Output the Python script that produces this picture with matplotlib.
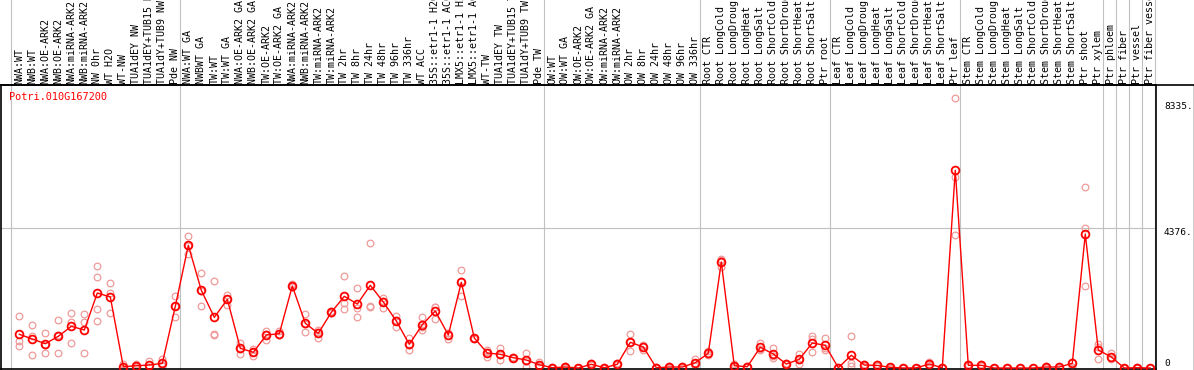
import numpy as np
import matplotlib
matplotlib.use('Agg')
import matplotlib.pyplot as plt
from matplotlib.lines import Line2D
from matplotlib.transforms import blended_transform_factory


###########################################################################################
## sample names, one per column
labels = ["NWA:WT", "NWB:WT", "NWA:OE-ARK2", "NWB:OE-ARK2", "NWA:miRNA-ARK2", "NWB:miRNA-ARK2",
          "NW 0hr", "WT H2O", "WT-NW", "TUA1dEY NW", "TUA1dEY+TUB15 NW", "TUA1dY+TUB9 NW", "Pde NW",
          "NWA:WT GA", "NWBWT GA", "TW:WT", "TW:WT GA", "NWA:OE-ARK2 GA", "NWB:OE-ARK2 GA",
          "TW:OE-ARK2", "TW:OE-ARK2 GA", "NWA:miRNA-ARK2", "NWB:miRNA-ARK2", "TW:miRNA-ARK2",
          "TW:miRNA-ARK2", "TW 2hr", "TW 8hr", "TW 24hr", "TW 48hr", "TW 96hr", "TW 336hr", "WT ACC",
          "35S::etr1-1 H2O", "35S::etr1-1 ACC", "LMX5::etr1-1 H2O", "LMX5::etr1-1 ACC", "WT-TW",
          "TUA1dEY TW", "TUA1dEY+TUB15 TW", "TUA1dY+TUB9 TW", "Pde TW",
          "OW:WT", "OW:WT GA", "OW:OE-ARK2", "OW:OE-ARK2 GA", "OW:miRNA-ARK2", "OW:miRNA-ARK2",
          "OW 2hr", "OW 8hr", "OW 24hr", "OW 48hr", "OW 96hr", "OW 336hr",
          "Root CTR", "Root LongCold", "Root LongDrought", "Root LongHeat", "Root LongSalt",
          "Root ShortCold", "Root ShortDrought", "Root ShortHeat", "Root ShortSalt", "Ptr root",
          "Leaf CTR", "Leaf LongCold", "Leaf LongDrought", "Leaf LongHeat", "Leaf LongSalt",
          "Leaf ShortCold", "Leaf ShortDrought", "Leaf ShortHeat", "Leaf ShortSalt", "Ptr leaf",
          "Stem CTR", "Stem LongCold", "Stem LongDrought", "Stem LongHeat", "Stem LongSalt",
          "Stem ShortCold", "Stem ShortDrought", "Stem ShortHeat", "Stem ShortSalt", "Ptr shoot",
          "Ptr xylem", "Ptr phloem", "Ptr fiber", "Ptr vessel", "Ptr fiber vessel"]

## mean expression per sample
means = [1056, 909, 761, 993, 1306, 1191, 2350, 2224, 41, 72, 94, 147, 1933,
         3844, 2434, 1588, 2152, 617, 492, 1034, 1075, 2569, 1400, 1087, 1745, 2246, 2005, 2591,
         2068, 1473, 743, 1357, 1786, 1034, 2685, 940, 470, 429, 323, 251, 103,
         9, 31, 0, 116, 9, 116, 805, 658, 9, 31, 31, 166,
         461, 3321, 72, 41, 649, 439, 125, 272, 783, 711,
         9, 398, 94, 80, 22, 0, 5, 125, 9, 6194,
         85, 85, 0, 0, 0, 0, 31, 31, 147, 4198,
         564, 345, 0, 9, 0]

## replicate values per sample
reps = [[1639, 846, 689], [1338, 398, 991], [1097, 461, 725], [1494, 461, 1024],
        [1714, 1441, 774], [1682, 1441, 461], [3196, 2842, 1839, 1463], [2654, 2359, 1714],
        [125, 0, 0], [110, 60, 45], [229, 30, 25], [272, 100, 70], [2256, 1607, 1936],
        [4136, 3562, 3834], [2967, 1933, 2402], [2726, 1056, 1025], [2297, 1983, 2176],
        [793, 448, 610], [595, 376, 505], [1159, 877, 1066], [1150, 1034, 1041],
        [2622, 2560, 2525], [1682, 1137, 1381], [1191, 930, 1140], [1776, 1730, 1729],
        [2882, 2027, 1839], [2516, 1870, 1607], [3907, 1952, 1902], [2203, 1889, 2112],
        [1629, 1294, 1496], [930, 564, 735], [1607, 1191, 1273], [1902, 1545, 1911],
        [899, 1100, 1103], [3061, 2256, 2738], [918, 950, 952], [564, 354, 492],
        [636, 251, 400], [340, 310, 320], [479, 41, 233], [197, 60, 52],
        [20, 5, 2], [60, 20, 13], [0, 0, 0], [150, 110, 88], [20, 5, 2], [150, 110, 88],
        [1065, 533, 817], [711, 564, 699], [20, 5, 2], [60, 20, 13], [60, 20, 13], [272, 63, 163],
        [533, 430, 420], [3415, 3174, 3374], [110, 60, 46], [70, 30, 23], [774, 564, 609],
        [636, 313, 368], [150, 110, 115], [429, 125, 262], [993, 909, 492], [940, 564, 630],
        [20, 5, 2], [993, 150, 51], [130, 80, 72], [110, 70, 60], [40, 15, 11], [0, 0, 0],
        [10, 5, 0], [179, 100, 96], [20, 5, 2], [8450, 5994, 4167],
        [110, 80, 65], [110, 80, 65], [0, 0, 0], [0, 0, 0], [0, 0, 0], [0, 0, 0],
        [60, 20, 13], [60, 20, 13], [41, 200, 200], [5661, 4377, 2560],
        [752, 272, 668], [461, 272, 302], [0, 0, 0], [20, 5, 2], [0, 0, 0]]

## group boundaries (number of samples before each separator)
group_ends = [0, 13, 41, 53, 63, 73, 84, 85, 86, 87, 88]
y_ticks = [8335, 4376, 0]
gene = "Potri.010G167200"

assert len(labels) == len(means) == len(reps) == 88

###########################################################################################
W, H = 1194, 370
fig = plt.figure(figsize=(W / 100, H / 100), dpi=100)
ax = fig.add_axes([1 / W, 1 - 369 / H, 1155 / W, 284 / H])
ax.set_xlim(-1.41, 87.44)
ax.set_ylim(-31, 8866)
ax.set_xticks([])
ax.set_yticks([])
for s in ax.spines.values():
    s.set_color('black')
    s.set_linewidth(1.2)

grey = '#c0c0c0'
top_frac = 369 / 284  # axes fraction of the figure top
for g in group_ends:
    ax.axvline(g - 0.63, ymin=0, ymax=top_frac, color=grey, lw=0.8, clip_on=False, zorder=0)
ax.axhline(y_ticks[1], color=grey, lw=0.8, zorder=0)

x = np.arange(len(means))
for xi, r in zip(x, reps):
    ax.plot([xi] * len(r), r, 'o', ms=4.8, mfc='none', mec='#f09a9a', mew=0.9, zorder=2)
ax.plot(x, means, '-', color='red', lw=1.0, zorder=3)
ax.plot(x, means, 'o', ms=5.6, mfc='none', mec='red', mew=1.3, zorder=4)

## header labels
mono = 'DejaVu Sans Mono'
trans = blended_transform_factory(ax.transData, fig.transFigure)
for xi, name in zip(x, labels):
    ax.text(xi, 1 - 84 / H, name, rotation=90, ha='center', va='bottom', fontsize=7.2,
            family=mono, transform=trans, clip_on=False)

fig.add_artist(Line2D([0, 1], [1 - 85 / H, 1 - 85 / H], transform=fig.transFigure,
                      color='black', lw=1.2))
fig.add_artist(Line2D([1193.5 / W, 1193.5 / W], [1 - 85 / H, 1 - 369 / H],
                      transform=fig.transFigure, color='black', lw=1.0))

## right-side value labels
rtrans = blended_transform_factory(fig.transFigure, ax.transData)
for v in y_ticks:
    ax.text(1164 / W, v, f"{v}." if v else "0", ha='left', va='top' if v else 'bottom',
            fontsize=6.8, family=mono, transform=rtrans, clip_on=False)

fig.text(9 / W, 1 - 97 / H, gene, color='red', fontsize=7.4, family=mono, va='center')

fig.savefig('out.png', dpi=100)
